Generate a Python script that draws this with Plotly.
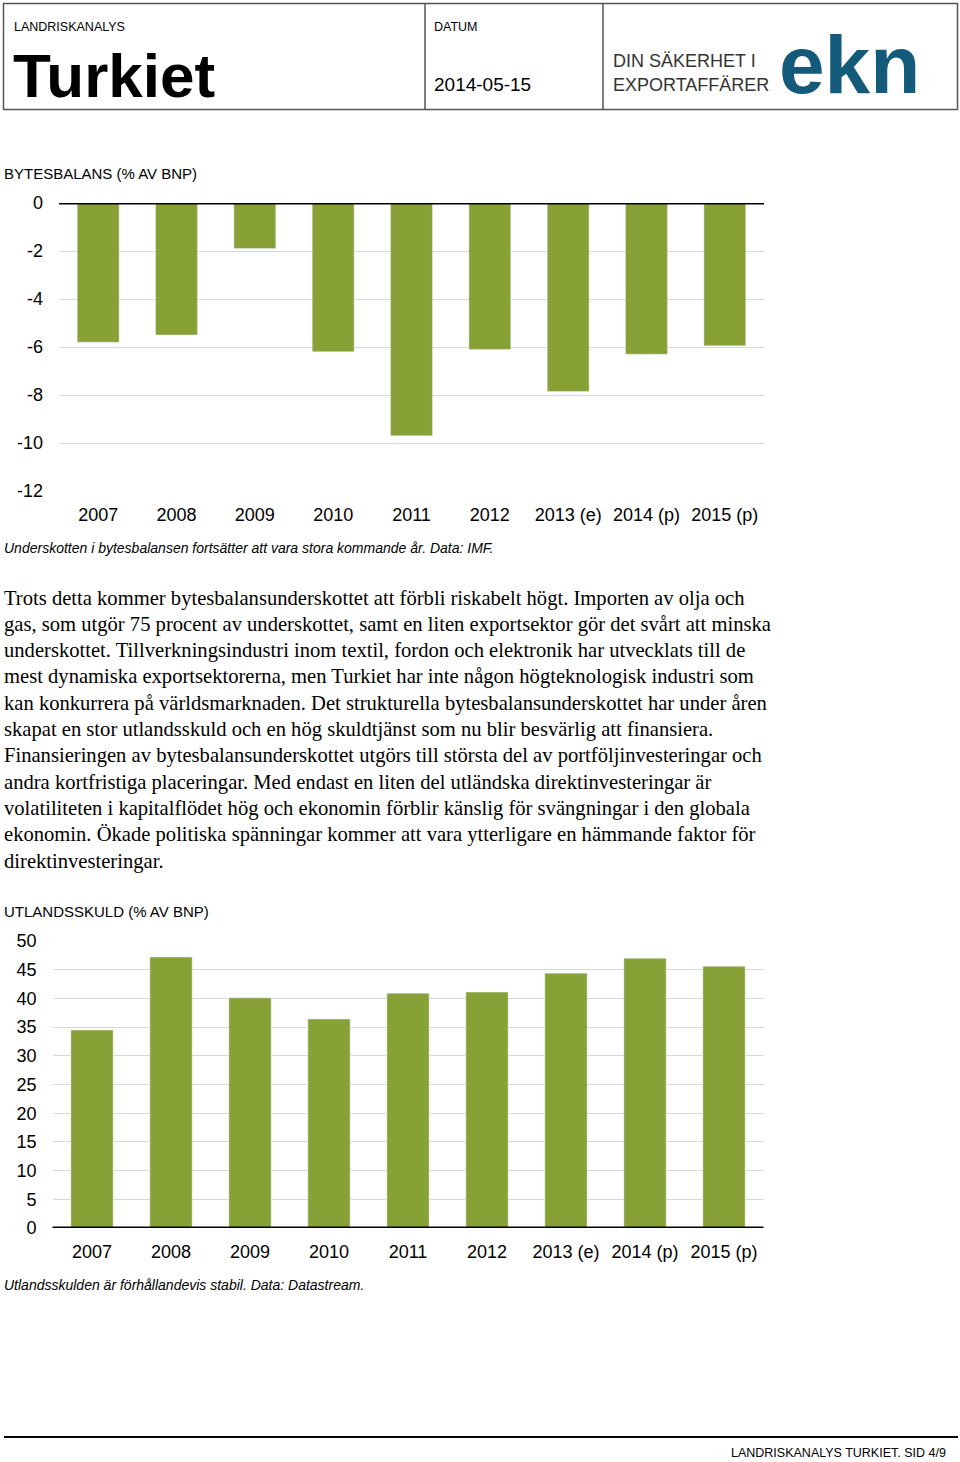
import plotly.graph_objects as go

W, H = 960, 1462

# ---- data ----
years = ["2007", "2008", "2009", "2010", "2011", "2012", "2013 (e)", "2014 (p)", "2015 (p)"]
current_account = [-5.8, -5.5, -1.9, -6.2, -9.7, -6.1, -7.85, -6.3, -5.95]   # % av BNP
external_debt = [34.5, 47.2, 40.1, 36.4, 40.9, 41.1, 44.4, 47.0, 45.6]       # % av BNP
ca_tickvals = [0, -2, -4, -6, -8, -10, -12]
ca_ticktext = ["0", "-2", "-4", "-6", "-8", "-10", "-12"]
debt_tickvals = [0, 5, 10, 15, 20, 25, 30, 35, 40, 45, 50]
debt_ticktext = ["0", "5", "10", "15", "20", "25", "30", "35", "40", "45", "50"]

paragraph = [
    "Trots detta kommer bytesbalansunderskottet att förbli riskabelt högt. Importen av olja och",
    "gas, som utgör 75 procent av underskottet, samt en liten exportsektor gör det svårt att minska",
    "underskottet. Tillverkningsindustri inom textil, fordon och elektronik har utvecklats till de",
    "mest dynamiska exportsektorerna, men Turkiet har inte någon högteknologisk industri som",
    "kan konkurrera på världsmarknaden. Det strukturella bytesbalansunderskottet har under åren",
    "skapat en stor utlandsskuld och en hög skuldtjänst som nu blir besvärlig att finansiera.",
    "Finansieringen av bytesbalansunderskottet utgörs till största del av portföljinvesteringar och",
    "andra kortfristiga placeringar. Med endast en liten del utländska direktinvesteringar är",
    "volatiliteten i kapitalflödet hög och ekonomin förblir känslig för svängningar i den globala",
    "ekonomin. Ökade politiska spänningar kommer att vara ytterligare en hämmande faktor för",
    "direktinvesteringar.",
]

BAR = "#87a136"
GRID = "#d9d9d9"
SANS = "Liberation Sans, Arial, sans-serif"
SERIF = "Liberation Serif, Times New Roman, serif"


def px(x):
    return x / W


def py(y):
    return 1 - y / H


fig = go.Figure()
fig.add_trace(go.Bar(x=years, y=current_account, marker_color=BAR, xaxis="x", yaxis="y",
                     showlegend=False, hoverinfo="x+y"))
fig.add_trace(go.Bar(x=years, y=external_debt, marker_color=BAR, xaxis="x2", yaxis="y2",
                     showlegend=False, hoverinfo="x+y"))

axis_font = dict(family=SANS, size=18, color="#000")

fig.update_layout(
    width=W, height=H, autosize=False,
    margin=dict(l=0, r=0, t=0, b=0, autoexpand=False),
    paper_bgcolor="white", plot_bgcolor="white",
    bargap=0.465,
    xaxis=dict(domain=[px(59), px(764)], anchor="y", showgrid=False, showline=False,
               zeroline=False, ticks="", tickfont=axis_font, ticklabelstandoff=11,
               automargin=False, fixedrange=True),
    yaxis=dict(domain=[py(491), py(203)], anchor="x", range=[-12, 0],
               tickvals=ca_tickvals, ticktext=ca_ticktext, showgrid=True,
               gridcolor=GRID, gridwidth=1, zeroline=False, showline=False,
               ticks="", tickfont=axis_font, ticklabelstandoff=15, automargin=False,
               fixedrange=True),
    xaxis2=dict(domain=[px(52.5), px(763.5)], anchor="y2", showgrid=False, showline=False,
                zeroline=False, ticks="", tickfont=axis_font, ticklabelstandoff=11,
                automargin=False, fixedrange=True),
    yaxis2=dict(domain=[py(1228), py(941)], anchor="x2", range=[0, 50],
                tickvals=debt_tickvals, ticktext=debt_ticktext, showgrid=True,
                gridcolor=GRID, gridwidth=1, zeroline=False, showline=False,
                ticks="", tickfont=axis_font, ticklabelstandoff=15, automargin=False,
                fixedrange=True),
)

shapes = [
    # zero lines
    dict(type="line", xref="x domain", yref="y", x0=0, x1=1, y0=0, y1=0,
         line=dict(color="black", width=3)),
    dict(type="line", xref="x2 domain", yref="y2", x0=0, x1=1, y0=0, y1=0,
         line=dict(color="black", width=3)),
    # header box
    dict(type="rect", xref="paper", yref="paper", x0=px(3.5), x1=px(957.5), y0=py(109.5), y1=py(3.5),
         line=dict(color="#555555", width=1.5)),
    dict(type="line", xref="paper", yref="paper", x0=px(425), x1=px(425), y0=py(109.5), y1=py(3.5),
         line=dict(color="#555555", width=1.5)),
    dict(type="line", xref="paper", yref="paper", x0=px(603), x1=px(603), y0=py(109.5), y1=py(3.5),
         line=dict(color="#555555", width=1.5)),
    # footer line
    dict(type="line", xref="paper", yref="paper", x0=px(4), x1=px(958), y0=py(1437), y1=py(1437),
         line=dict(color="black", width=2)),
]

anns = []


def txt(x, y, s, size, family=SANS, color="#000", xanchor="left", italic=False, bold=False):
    if bold:
        s = "<b>" + s + "</b>"
    if italic:
        s = "<i>" + s + "</i>"
    anns.append(dict(x=px(x), y=py(y), xref="paper", yref="paper", text=s, showarrow=False,
                     xanchor=xanchor, yanchor="middle", align="left",
                     font=dict(family=family, size=size, color=color)))


# header
txt(12, 27, "LANDRISKANALYS", 12.5)
txt(11, 75, "Turkiet", 62, bold=True)
txt(432, 27, "DATUM", 12.5)
txt(432, 85, "2014-05-15", 19)
txt(611, 61, "DIN SÄKERHET I", 18, color="#333333")
txt(611, 85, "EXPORTAFFÄRER", 18, color="#333333")
txt(777, 64, "ekn", 82, color="#145a7a", bold=True)

# chart titles & captions
txt(2, 174, "BYTESBALANS (% AV BNP)", 15)
txt(2, 548, "Underskotten i bytesbalansen fortsätter att vara stora kommande år. Data: IMF.", 14, italic=True)
txt(2, 911, "UTLANDSSKULD (% AV BNP)", 15)
txt(2, 1285, "Utlandsskulden är förhållandevis stabil. Data: Datastream.", 14, italic=True)

# paragraph
for i, line in enumerate(paragraph):
    txt(2, 598 + i * 26.3, line, 20.6, family=SERIF)

# footer
txt(948, 1453, "LANDRISKANALYS TURKIET. SID 4/9", 12.5, xanchor="right")

fig.update_layout(shapes=shapes, annotations=anns)

fig.write_html(
    "out.html",
    config={"displayModeBar": False},
    post_script="document.body.style.margin='0px';document.body.style.overflow='hidden';",
)
